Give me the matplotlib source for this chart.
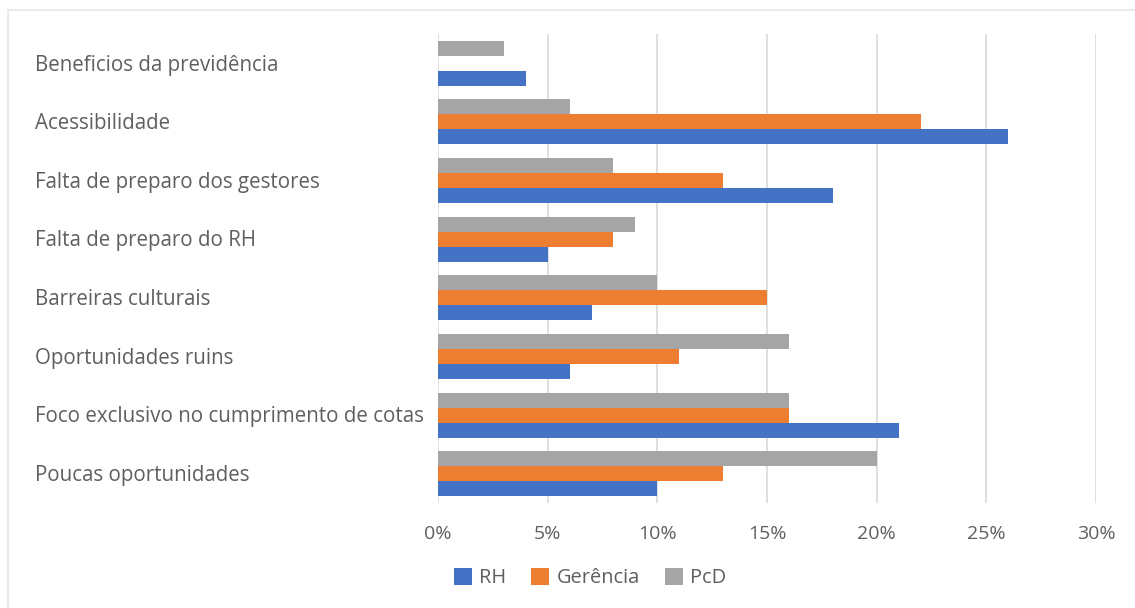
import matplotlib.pyplot as plt
from matplotlib.lines import Line2D
from matplotlib.transforms import blended_transform_factory
from matplotlib.ticker import FuncFormatter
import numpy as np

# categorias, de baixo para cima
categorias = [
    "Poucas oportunidades",
    "Foco exclusivo no cumprimento de cotas",
    "Oportunidades ruins",
    "Barreiras culturais",
    "Falta de preparo do RH",
    "Falta de preparo dos gestores",
    "Acessibilidade",
    "Beneficios da previdência",
]
rh = [10, 21, 6, 7, 5, 18, 26, 4]
gerencia = [13, 16, 11, 15, 8, 13, 22, 0]
pcd = [20, 16, 16, 10, 9, 8, 6, 3]
xticks = [0, 5, 10, 15, 20, 25, 30]

cor_texto = "#5f5f5f"
plt.rcParams['font.family'] = ['Open Sans', 'DejaVu Sans']

fig = plt.figure(figsize=(11.35, 6.08), dpi=100)
ax = fig.add_axes([438 / 1135, 1 - 503 / 608, 658 / 1135, 469 / 608])

y = np.arange(len(categorias))
h = 0.256
ax.barh(y - h, rh, height=h, color="#4472C4", label="RH", zorder=3)
ax.barh(y, gerencia, height=h, color="#ED7D31", label="Gerência", zorder=3)
ax.barh(y + h, pcd, height=h, color="#A5A5A5", label="PcD", zorder=3)

ax.set_xlim(0, 30)
ax.set_ylim(-0.5, len(categorias) - 0.5)
ax.set_xticks(xticks)
ax.xaxis.set_major_formatter(FuncFormatter(lambda v, p: f"{v:.0f}%"))
ax.grid(axis="x", color="#d9d9d9", linewidth=1.2, zorder=0)
ax.tick_params(axis="x", length=0, pad=16, labelsize=14, labelcolor=cor_texto)
ax.set_yticks([])
for s in ax.spines.values():
    s.set_visible(False)

# rótulos das categorias alinhados à esquerda
trans = blended_transform_factory(fig.transFigure, ax.transData)
for yi, nome in zip(y, categorias):
    ax.text(35 / 1135, yi - 0.03, nome, transform=trans,
            ha="left", va="center", fontsize=14.8, color=cor_texto)

fig.legend(loc="center", bbox_to_anchor=(590 / 1135, 1 - 578 / 608), ncol=3, frameon=False,
           fontsize=14.4, labelcolor=cor_texto, handlelength=0.9, handleheight=0.9,
           handletextpad=0.35, columnspacing=1.25)

# moldura do gráfico
fig.add_artist(Line2D([8 / 1135, 1], [1 - 10 / 608] * 2, color="#e6e6e6", lw=1.2, transform=fig.transFigure))
fig.add_artist(Line2D([8 / 1135] * 2, [0, 1 - 10 / 608], color="#e6e6e6", lw=1.2, transform=fig.transFigure))

fig.savefig("out.png", dpi=100, facecolor="white")
